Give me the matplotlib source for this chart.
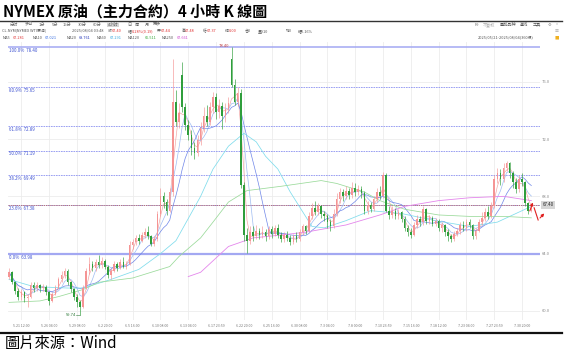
import numpy as np
import pandas as pd
import matplotlib.pyplot as plt

plt.rcParams['font.family'] = ['Noto Sans CJK TC', 'DejaVu Sans']

# one bar here ~ two 4h bars of the terminal screenshot
closes = [62.7, 62.0, 61.4, 61.0, 61.3, 60.9, 61.0, 61.8, 61.6, 61.8,
          61.6, 61.7, 61.3, 60.7, 61.2, 61.6, 62.2, 62.5, 62.8, 62.0,
          61.5, 61.0, 60.6, 60.3, 61.6, 62.8, 63.3, 63.0, 63.4, 63.2,
          63.5, 63.1, 62.5, 62.8, 63.3, 63.0, 63.4, 63.1, 63.3, 64.6,
          64.8, 65.1, 64.9, 65.3, 65.5, 65.2, 64.7, 65.0, 66.8, 68.0,
          67.6, 67.0, 68.3, 74.6, 73.2, 73.8, 74.2, 73.0, 72.3, 71.4,
          71.0, 71.9, 72.8, 73.6, 73.2, 74.2, 74.9, 73.9, 74.3, 73.6,
          74.1, 74.5, 75.8, 74.6, 75.2, 68.8, 65.3, 64.9, 65.5, 65.2,
          65.6, 65.3, 65.5, 65.2, 65.7, 65.4, 65.8, 65.3, 65.0, 65.3,
          65.1, 64.8, 65.2, 65.0, 65.5, 65.9, 65.6, 66.6, 67.2, 66.9,
          67.3, 66.8, 66.6, 66.2, 65.9, 66.8, 67.8, 68.3, 68.0, 68.4,
          68.1, 68.6, 68.3, 68.5, 68.2, 67.0, 67.4, 67.1, 67.8, 68.3,
          68.0, 69.5, 67.0, 66.7, 67.0, 66.6, 66.9, 66.4, 65.8, 65.5,
          65.3, 66.0, 66.4, 66.2, 67.1, 66.3, 66.5, 66.1, 66.3, 65.8,
          66.0, 65.5, 65.2, 65.0, 65.4, 65.6, 66.0, 65.8, 66.2, 66.0,
          65.2, 65.6, 66.2, 66.5, 66.9, 66.6, 67.3, 69.2, 69.6, 69.2,
          70.0, 70.3, 69.6, 69.0, 68.5, 69.2, 69.0, 67.5, 67.0, 67.4]
highs = [63.0, 62.8, 62.1, 61.6, 61.5, 61.4, 61.2, 62.0, 62.0, 62.0,
         61.9, 61.9, 61.8, 61.4, 61.3, 61.8, 62.4, 62.8, 63.0, 62.9,
         62.1, 61.6, 61.2, 60.8, 61.8, 63.0, 63.8, 63.5, 63.6, 63.9,
         63.8, 63.6, 63.2, 63.0, 63.5, 63.4, 63.6, 63.8, 63.5, 64.9,
         65.0, 65.3, 65.4, 65.5, 65.8, 65.9, 65.3, 65.2, 67.0, 68.6,
         68.3, 67.8, 68.6, 77.6, 75.4, 74.5, 77.4, 74.5, 73.3, 72.6,
         71.8, 72.3, 73.2, 74.2, 74.4, 74.6, 75.3, 75.2, 74.8, 74.6,
         74.5, 74.9, 78.4, 76.2, 75.6, 75.5, 69.0, 65.8, 65.9, 65.9,
         66.0, 65.8, 65.9, 65.7, 65.9, 65.9, 66.0, 66.1, 65.5, 65.5,
         65.6, 65.3, 65.4, 65.5, 65.7, 66.1, 66.0, 66.9, 67.5, 67.7,
         67.5, 67.4, 67.0, 66.8, 66.4, 67.1, 68.2, 68.6, 68.5, 68.7,
         68.6, 69.0, 68.9, 68.8, 68.7, 68.4, 67.7, 67.6, 68.0, 68.6,
         68.7, 69.7, 69.6, 67.3, 67.3, 67.2, 67.1, 67.0, 66.6, 66.0,
         65.8, 66.2, 66.7, 66.6, 67.3, 67.2, 66.7, 66.6, 66.5, 66.4,
         66.2, 66.1, 65.7, 65.4, 65.6, 65.8, 66.2, 66.3, 66.4, 66.4,
         66.1, 65.8, 66.4, 66.9, 67.2, 67.3, 67.6, 69.5, 70.0, 69.9,
         70.3, 70.5, 70.4, 69.8, 69.3, 69.5, 69.6, 69.1, 67.6, 67.5]
lows = [62.2, 61.9, 61.2, 60.8, 60.8, 60.6, 60.3, 60.9, 61.3, 61.4,
        61.3, 61.4, 61.1, 60.4, 60.6, 61.1, 61.5, 62.0, 62.3, 61.8,
        61.3, 60.8, 60.3, 59.74, 60.2, 61.5, 62.6, 62.8, 62.8, 63.0,
        63.0, 62.9, 62.3, 62.2, 62.7, 62.8, 62.9, 63.0, 62.9, 63.2,
        64.3, 64.6, 64.7, 64.8, 65.1, 65.0, 64.5, 64.5, 64.9, 66.6,
        67.2, 66.7, 66.9, 68.0, 72.9, 72.8, 73.9, 72.6, 71.9, 70.9,
        70.6, 70.8, 71.6, 72.5, 72.9, 73.0, 73.8, 73.4, 73.5, 72.7,
        73.2, 73.8, 75.6, 74.4, 74.3, 68.6, 64.9, 64.07, 64.7, 64.9,
        65.0, 65.0, 65.1, 64.9, 65.0, 65.1, 65.2, 65.1, 64.8, 64.8,
        64.9, 64.6, 64.7, 64.8, 64.9, 65.3, 65.4, 65.5, 66.4, 66.7,
        66.7, 66.5, 66.3, 65.8, 65.6, 65.8, 66.6, 67.5, 67.7, 67.8,
        67.8, 67.9, 68.0, 68.1, 67.9, 66.8, 66.8, 66.9, 67.0, 67.6,
        67.8, 67.9, 66.9, 66.4, 66.5, 66.4, 66.4, 66.2, 65.6, 65.2,
        65.1, 65.2, 65.8, 65.9, 66.0, 66.1, 66.1, 65.9, 65.9, 65.6,
        65.5, 65.2, 64.9, 64.8, 64.85, 65.2, 65.4, 65.6, 65.6, 65.8,
        65.0, 65.0, 65.5, 66.0, 66.3, 66.4, 66.5, 67.2, 68.9, 68.8,
        69.0, 69.8, 69.3, 68.6, 68.2, 68.3, 68.7, 67.3, 66.8, 66.9]
first_open = 62.4
gap_opens = {56: 76.5, 72: 77.6}   # weekend gaps

# long averages (bar index, price)
ma60_idx = [0, 8, 19, 24, 33, 42, 49, 54, 62, 66, 71, 76, 80, 83, 87, 91, 98, 102, 109, 117, 127, 138, 149, 158, 169]
ma60_val = [62.2, 61.7, 61.6, 61.6, 62.2, 62.9, 64.0, 64.9, 68.0, 69.9, 71.5, 72.4, 71.8, 70.8, 69.9, 68.3,
            65.9, 65.8, 66.3, 67.0, 66.8, 66.3, 65.9, 66.2, 67.3]
ma120_idx = [0, 10, 16, 24, 29, 40, 52, 55, 62, 66, 71, 77, 88, 101, 106, 115, 120, 128, 139, 149, 160, 169]
ma120_val = [60.6, 60.7, 61.0, 61.5, 62.0, 62.3, 63.1, 63.8, 65.1, 66.2, 67.6, 68.4, 68.7, 69.1, 68.9, 68.3,
             67.7, 67.1, 66.7, 66.6, 66.6, 66.5]
ma250_idx = [58, 62, 71, 79, 88, 96, 109, 120, 128, 139, 149, 160, 169]
ma250_val = [62.4, 62.7, 64.5, 65.1, 65.3, 65.5, 66.0, 66.7, 67.3, 67.7, 67.9, 68.0, 67.7]

tick_labels = ["5.21 12:00", "5.26 04:00", "5.29 08:00", "6.2 20:00", "6.5 16:00", "6.10 08:00",
               "6.13 04:00", "6.17 23:59", "6.22 20:00", "6.25 16:00", "6.30 08:00", "7.3 04:00",
               "7.8 00:00", "7.10 23:59", "7.15 16:00", "7.18 12:00", "7.23 04:00", "7.27 23:59",
               "7.30 20:00"]
fib_pct = ["100.0%", "80.9%", "61.8%", "50.0%", "38.2%", "23.6%", "0.0%"]
fib_price = [78.40, 75.65, 72.89, 71.19, 69.49, 67.38, 63.98]
last_price = 67.40

ma_names = ["MA5", "MA10", "MA20", "MA60", "MA120", "MA250"]
ma_last = ["67.281", "67.021", "68.761", "67.291", "66.511", "67.661"]

W, H = 573, 352
UP = '#f59494'
DOWN = '#2f9e3c'

fig = plt.figure(figsize=(W / 100, H / 100), dpi=100)


def put(x, y, s, **kw):
    kw.setdefault('va', 'center')
    return fig.text(x / W, 1 - y / H, s, **kw)


def hline(y, x0, x1, lw, color):
    fig.add_artist(plt.Line2D([x0 / W, x1 / W], [1 - y / H, 1 - y / H], lw=lw, color=color))


# header
put(3, 11, "NYMEX 原油（主力合約）4 小時 K 線圖", fontsize=10.8, color='black', fontweight='bold')
hline(20.5, 0, 562, 1.0, '#333333')

tabs = [(10, "分时"), (25, "多日"), (39, "1分"), (52, "5分"), (63, "15分"), (78, "30分"),
        (93, "60分"), (108, "4小时"), (127, "日"), (135, "周"), (145, "月"), (153, "更多")]
for x, s in tabs:
    t = put(x, 24.5, s, fontsize=3.0, color='#666666')
    if s == "4小时":
        t.set_bbox(dict(facecolor='#d4d4d4', edgecolor='none', pad=0.4))
for x, s, c in [(475, "F9", '#777777'), (483, "不复权", '#aaaaaa'), (500, "叠加品种", '#555555'),
                (520, "画线", '#555555'), (533, "工具", '#555555'), (548, "⚙", '#888888'),
                (556, "»", '#888888')]:
    put(x, 24.5, s, fontsize=3.0, color=c)

grey = '#555555'
red = '#e03030'
info = [(2, "CL.NYM|NYMEX WTI原油|", grey), (72, "2025/08/04 03:48", grey),
        (108, "收", grey), (112, "67.40", red), (128, "幅", grey), (132, "0.28%(0.19)", red),
        (157, "开", grey), (161, "67.44", red), (182, "高", grey), (185, "67.48", red),
        (203, "低", grey), (207, "67.37", red), (225, "结", grey), (229, "0.00", red),
        (245, "仓0", grey), (258, "量910", grey), (286, "增0", grey), (298, "幅0.16%", grey)]
for x, s, c in info:
    put(x, 31, s, fontsize=2.8, color=c)

ma_colors = ['#e03c3c', '#3a6fe0', '#2436b8', '#2ea6e0', '#38a838', '#cc44cc']
ma_name_x = [3, 33, 67, 97, 128, 162]
ma_val_x = [13, 45, 79, 110, 145, 177]
for i in range(6):
    put(ma_name_x[i], 38, ma_names[i], fontsize=2.8, color=grey)
    put(ma_val_x[i], 38, ma_last[i], fontsize=2.8, color=ma_colors[i])
put(478, 37.5, "2025/05/21-2025/08/04(360根)", fontsize=2.8, color=grey)
put(555, 30, "☰", fontsize=3.2, color='#999999')
put(555, 38, "■", fontsize=3.2, color='#f0b020')

# price chart
ax = fig.add_axes([8 / W, 32 / H, 532 / W, 278 / H])
n = len(closes)
x = np.arange(n)
c = np.array(closes)
hi = np.array(highs)
lo = np.array(lows)
o = np.r_[first_open, c[:-1]]
for k, v in gap_opens.items():
    o[k] = v
up = c >= o
cols = np.where(up, UP, DOWN)

ax.vlines(x, lo, hi, colors=cols, linewidth=0.45, zorder=3)
ax.bar(x, np.maximum(np.abs(c - o), 0.03), bottom=np.minimum(o, c), width=0.5,
       color=cols, linewidth=0, zorder=3)

s = pd.Series(closes)
ax.plot(x, s.rolling(3, min_periods=1).mean(), color='#f2a0a0', lw=0.45, zorder=2)
ax.plot(x, s.rolling(5, min_periods=1).mean(), color='#9fbcf2', lw=0.5, zorder=2)
ax.plot(x, s.rolling(10, min_periods=1).mean(), color='#6f86e8', lw=0.5, zorder=2)
ax.plot(ma60_idx, ma60_val, color='#7fdcec', lw=0.55, zorder=2)
ax.plot(ma120_idx, ma120_val, color='#9ada9a', lw=0.55, zorder=2)
ax.plot(ma250_idx, ma250_val, color='#e486ec', lw=0.6, zorder=2)

for pct, p in zip(fib_pct, fib_price):
    if pct in ("100.0%", "0.0%"):
        ax.axhline(p, color='#a3a8f2', lw=1.1 if pct == "100.0%" else 1.6, zorder=1)
    else:
        ax.axhline(p, color='#8c92f0', lw=0.6, ls=(0, (2, 1)), zorder=1)
    ax.text(-0.1, p - 0.23, f"{pct}  {p:.2f}", fontsize=3.2, color='#3a4fd0', va='center', ha='left')

ax.axhline(last_price, color='#b86a6a', lw=0.6, ls=(0, (1.5, 1)), zorder=1)
ax.text(172.6, last_price, f"{last_price:.2f}", fontsize=3.2, color='#222222', va='center', ha='left',
        bbox=dict(facecolor='#d6d6d6', edgecolor='none', pad=0.8), clip_on=False)

ax.text(71.2, 78.50, "78.40", fontsize=3, color='#c04040', ha='right', va='center')
ax.text(21.6, 59.74, "59.74", fontsize=3, color='#2f7a3a', ha='right', va='center')
ax.plot([21.7, 23], [59.74, 59.74], color='#2f7a3a', lw=0.4)

ax.annotate("", xy=(169.8, 67.75), xytext=(168.2, 66.8), annotation_clip=False,
            arrowprops=dict(arrowstyle='-|>', color='#e02020', lw=0.8, mutation_scale=4))
ax.plot([169.9, 171.2], [67.2, 66.35], color='#e02020', lw=0.8, clip_on=False)
ax.annotate("", xy=(173.8, 66.95), xytext=(171.2, 66.35), annotation_clip=False,
            arrowprops=dict(arrowstyle='-|>', color='#e02020', lw=0.8, mutation_scale=4))

ax.set_xlim(-0.32, 171.8)
ax.set_ylim(59.37, 78.77)
ax.set_xticks(4 + 9 * np.arange(len(tick_labels)))
ax.set_xticklabels(tick_labels)
ax.set_yticks([60, 64, 68, 72, 76])
ax.set_yticklabels(["60.0", "64.0", "68.0", "72.0", "76.0"])
ax.yaxis.tick_right()
ax.tick_params(axis='x', length=0, pad=3, labelsize=2.6, labelcolor='#777777')
ax.tick_params(axis='y', length=0, pad=1.5, labelsize=3, labelcolor='#888888')
ax.grid(True, color='#ececec', lw=0.6, zorder=0)
ax.set_axisbelow(True)
for sp in ax.spines.values():
    sp.set_visible(False)

# footer
hline(333, 0, 562, 1.6, '#111111')
put(5, 343, "圖片來源：Wind", fontsize=11, color='black')

fig.savefig('out.png', dpi=100)
